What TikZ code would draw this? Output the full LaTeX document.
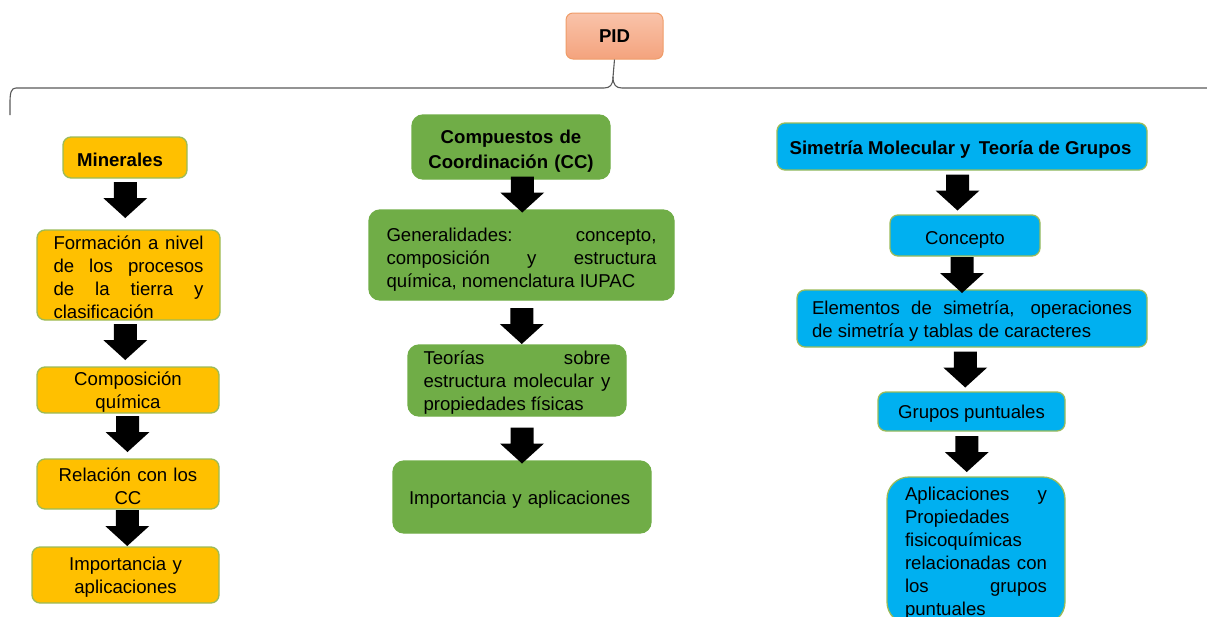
\documentclass[tikz,border=0pt]{standalone}
\usepackage{fontspec}
\setmainfont{Liberation Sans}
\usetikzlibrary{calc}
\hyphenpenalty=10000
\exhyphenpenalty=10000

\definecolor{pidtop}{HTML}{F9C3AA}
\definecolor{pidbot}{HTML}{F4A37D}
\definecolor{pidline}{HTML}{EF9C68}
\definecolor{minfill}{HTML}{FFC000}
\definecolor{ccfill}{HTML}{70AD47}
\definecolor{symfill}{HTML}{00B0F0}
\definecolor{limeline}{HTML}{9BBB59}
\definecolor{bracket}{HTML}{595959}

\tikzset{
  basebox/.style={rounded corners=8pt, line width=1.3pt, inner xsep=0pt, inner ysep=0pt,
    font=\fontsize{18.6}{23}\selectfont, tdrop=18.6pt},
  % a zero-width strut on the first line sets where the text sits in its box
  tdrop/.style={execute at begin node={\rule{0pt}{#1}}},
  minbox/.style={basebox, fill=minfill, draw=limeline},
  ccbox/.style={basebox, fill=ccfill, draw=ccfill, rounded corners=11pt},
  symbox/.style={basebox, fill=symfill, draw=limeline},
  pidbox/.style={rounded corners=7pt, inner sep=0pt, top color=pidtop, bottom color=pidbot,
    draw=pidline, line width=1pt, font=\fontsize{18.6}{22}\selectfont\bfseries},
  jtext/.style={align=justify, text width=#1},
  ctext/.style={align=center, text width=#1},
  bracketline/.style={draw=bracket, line width=1.1pt},
  blockarrow/.style={fill=black}
}

% block arrow centred between two boxes, with a small offset
\newcommand\blockarr[4]{%
  \path ($(#1.south)!0.5!(#2.north)$) ++(#3,#4) coordinate (am);
  \fill[blockarrow] ($(am)+(-11.5,-18)$) -- ($(am)+(11.5,-18)$) -- ($(am)+(11.5,-2)$)
    -- ($(am)+(22,-2)$) -- ($(am)+(0,18)$) -- ($(am)+(-22,-2)$) -- ($(am)+(-11.5,-2)$) -- cycle;
}

\begin{document}
\begin{tikzpicture}[x=1pt, y=-1pt]
\useasboundingbox (0,0) rectangle (1207,616);

% root
\node[pidbox, minimum width=97, minimum height=46] (pid) at (614.5,36) {PID};

% bracket joining the three branches
\draw[bracketline] (pid.south) -- (613,77)
  .. controls (613,85) and (610,88) .. (604,88) -- (16,88)
  .. controls (11,88) and (10,93) .. (10,103) -- (10,115);
\draw[bracketline] (613,77) .. controls (613,85) and (616,88) .. (622,88) -- (1210,88);

% Minerales branch
\node[minbox, minimum width=124, minimum height=41, tdrop=17.6pt,
  font=\fontsize{18.6}{23}\selectfont\bfseries]
  (min) at (125,157.5) {\hspace*{-10pt}Minerales};
\node[minbox, minimum width=183, minimum height=90, jtext=150, tdrop=15.6pt] (form) at (128.5,275)
  {Formación a nivel\linebreak de los procesos\linebreak de la tierra y\linebreak clasificación};
\node[minbox, minimum width=182, minimum height=46, ctext=170] (comp) at (128,390)
  {Composición\\química};
\node[minbox, minimum width=182, minimum height=50, ctext=170, tdrop=15.6pt] (rel) at (128,484)
  {Relación con los\\CC};
\node[minbox, minimum width=187, minimum height=56, ctext=170] (imp1) at (125.5,575)
  {Importancia y\\aplicaciones};

\blockarr{min}{form}{-1.5}{-4}
\blockarr{form}{comp}{-3}{-1.5}
\blockarr{comp}{rel}{-0.5}{-2}
\blockarr{rel}{imp1}{0.5}{0}

% Compuestos de coordinacion branch
\node[ccbox, minimum width=198, minimum height=64, ctext=186, tdrop=21.6pt,
  font=\fontsize{18.6}{24.5}\selectfont\bfseries]
  (cc) at (511,147) {Compuestos de\\Coordinación (CC)};
\node[ccbox, minimum width=305, minimum height=90, jtext=270, tdrop=23.6pt] (gen) at (521.5,255)
  {Generalidades: concepto,\linebreak composición y estructura\linebreak química, nomenclatura IUPAC};
\node[ccbox, minimum width=218, minimum height=71, jtext=187] (teo) at (517,380.5)
  {Teorías sobre\linebreak estructura molecular y\linebreak propiedades físicas};
\node[ccbox, minimum width=258, minimum height=72, align=left, text width=226, tdrop=19.6pt]
  (imp2) at (522,497) {Importancia y aplicaciones};

\blockarr{cc}{gen}{6}{0}
\blockarr{gen}{teo}{2.5}{3.5}
\blockarr{teo}{imp2}{2.5}{7}

% Simetria molecular branch
\node[symbox, minimum width=370, minimum height=47, tdrop=19.6pt,
  font=\fontsize{18.6}{23}\selectfont\bfseries]
  (sym) at (962,146.5) {\hspace*{-3pt}Simetría Molecular y\, Teoría de Grupos};
\node[symbox, minimum width=150, minimum height=41, tdrop=21.6pt] (con) at (965,235.5) {Concepto};
\node[symbox, minimum width=350, minimum height=57, jtext=320] (ele) at (972,318.5)
  {Elementos de simetría,\, operaciones\linebreak de simetría y tablas de caracteres};
\node[symbox, minimum width=187, minimum height=39, tdrop=17.6pt] (gru) at (971.5,411.5)
  {Grupos puntuales};
\node[symbox, rounded corners=22pt, minimum width=178, minimum height=147, jtext=142, tdrop=17.6pt]
  (apl) at (976,550.5)
  {Aplicaciones y\linebreak Propiedades\linebreak fisicoquímicas\linebreak relacionadas con\linebreak los grupos\linebreak puntuales};

\blockarr{sym}{con}{-6}{0}
\blockarr{con}{ele}{-6.5}{2}
\blockarr{ele}{gru}{-6.5}{0}
\blockarr{gru}{apl}{-7}{0}
\end{tikzpicture}
\end{document}
